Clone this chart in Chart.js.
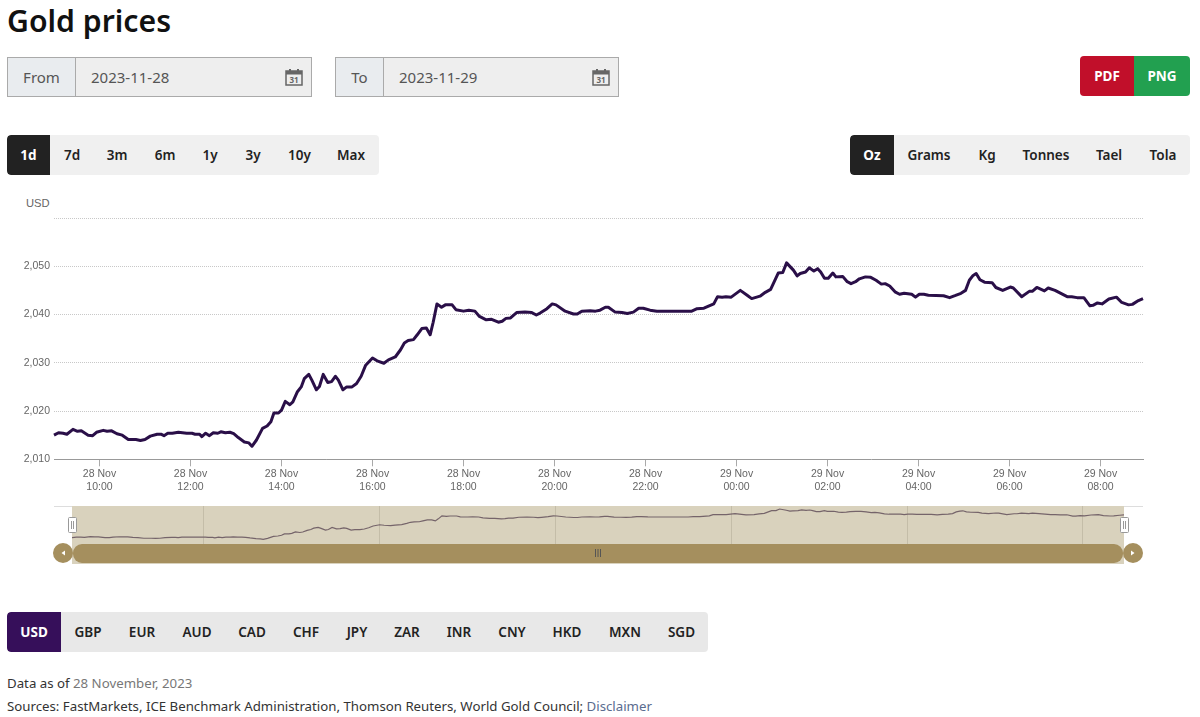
<!DOCTYPE html>
<html>
<head>
<meta charset="utf-8">
<title>Gold prices</title>
<script src="https://cdn.jsdelivr.net/npm/chart.js@4/dist/chart.umd.min.js"></script>
<style>
  html, body { margin: 0; padding: 0; background: #fff; }
  body { width: 1200px; height: 717px; position: relative; overflow: hidden; font-family: "Noto Sans", sans-serif; color: #222; }
  .abs { position: absolute; }
  h1 { position: absolute; left: 7px; top: 0; margin: 0; font-size: 30.2px; line-height: 42px; font-weight: 600; color: #111; }
  .field { position: absolute; top: 57px; height: 38px; border: 1px solid #aaa; background: #eee; display: flex; font-size: 15px; color: #555; line-height: 38px; }
  .field .lbl { background: #e9ecef; border-right: 1px solid #aaa; text-align: center; }
  .field .val { padding-left: 15px; flex: 1; }
  .field svg { position: absolute; right: 8px; top: 10px; }
  .group { position: absolute; height: 40px; background: #f0f0f0; border-radius: 4px; display: flex; font-size: 13.5px; font-weight: 600; line-height: 40px; overflow: hidden; }
  .group span { display: block; flex: none; text-align: center; }
  .group .on { background: #222; color: #fff; font-weight: 700; border-radius: 4px 0 0 4px; }
  #currency { background: #e8e8e8; }
  #currency .on { background: #360f5a; }
  #exportBtns { position: absolute; left: 1080px; top: 56px; width: 110px; height: 40px; display: flex; border-radius: 4px; overflow: hidden; color: #fff; font-size: 13.5px; font-weight: 700; line-height: 40px; text-align: center; }
  #exportBtns .pdf { width: 54px; background: #c10f2a; }
  #exportBtns .png { width: 56px; background: #22a050; }
  #mainWrap { position: absolute; left: 0; top: 190px; width: 1200px; height: 310px; }
  #navWrap { position: absolute; left: 72px; top: 506px; width: 1052px; height: 38px; background: #d9d2bd; }
  #usdLabel { position: absolute; left: 26px; top: 197px; font: 11.2px "Liberation Sans", sans-serif; color: #666; line-height: 13px; }
  .note { position: absolute; left: 7px; font-size: 13.25px; line-height: 20px; color: #333; white-space: nowrap; }
  .note .muted { color: #777; }
  .note .link { color: #5a6c8f; }
</style>
</head>
<body>
<h1>Gold prices</h1>

<div class="field" style="left:7px;width:303px">
  <div class="lbl" style="width:67px">From</div><div class="val">2023-11-28</div>
  <svg width="18" height="18" viewBox="0 0 18 18"><rect x="1" y="3" width="16" height="14" fill="none" stroke="#666" stroke-width="1.5"/><rect x="1" y="3" width="16" height="3.5" fill="#666"/><rect x="4" y="1" width="2" height="4" fill="#666"/><rect x="12" y="1" width="2" height="4" fill="#666"/><text x="9" y="15" font-size="8" font-weight="700" text-anchor="middle" fill="#666">31</text></svg>
</div>
<div class="field" style="left:335px;width:282px">
  <div class="lbl" style="width:47px">To</div><div class="val">2023-11-29</div>
  <svg width="18" height="18" viewBox="0 0 18 18"><rect x="1" y="3" width="16" height="14" fill="none" stroke="#666" stroke-width="1.5"/><rect x="1" y="3" width="16" height="3.5" fill="#666"/><rect x="4" y="1" width="2" height="4" fill="#666"/><rect x="12" y="1" width="2" height="4" fill="#666"/><text x="9" y="15" font-size="8" font-weight="700" text-anchor="middle" fill="#666">31</text></svg>
</div>
<div id="exportBtns"><div class="pdf">PDF</div><div class="png">PNG</div></div>

<div class="group" id="ranges" style="left:7px;top:135px;width:372px"></div>
<div class="group" id="units" style="left:850px;top:135px;width:340px"></div>

<div id="usdLabel">USD</div>
<div id="mainWrap"><canvas id="goldChart"></canvas></div>

<!-- navigator -->
<div class="abs" style="left:54px;top:506px;width:18px;height:1px;background:#ddd"></div>
<div class="abs" style="left:1124px;top:506px;width:19px;height:1px;background:#ddd"></div>
<div id="navWrap"><canvas id="navChart"></canvas></div>
<div class="abs" style="left:72px;top:544px;width:1052px;height:20px;background:#d9d2bd"></div>
<div class="abs" style="left:73px;top:544px;width:1050px;height:19px;background:#a58f5e;border-radius:9px"></div>
<div class="abs" style="left:53px;top:543px;width:20px;height:20px;background:#a58f5e;border-radius:50%"></div>
<div class="abs" style="left:1123px;top:543px;width:20px;height:20px;background:#a58f5e;border-radius:50%"></div>
<svg class="abs" style="left:53px;top:543px" width="1090" height="20">
  <path d="M12 7.5 L8.5 10 L12 12.5 Z" fill="#fff"/>
  <path d="M1078 7.5 L1081.5 10 L1078 12.5 Z" fill="#fff"/>
  <path d="M542.5 6 V14 M545 6 V14 M547.5 6 V14" stroke="#555" stroke-width="1"/>
</svg>
<svg class="abs" style="left:68px;top:517px" width="1062" height="17">
  <rect x="0.5" y="0.5" width="8" height="15" rx="1" fill="#fff" stroke="#999"/>
  <path d="M3.5 4 V12 M5.5 4 V12" stroke="#999"/>
  <rect x="1052.5" y="0.5" width="8" height="15" rx="1" fill="#fff" stroke="#999"/>
  <path d="M1055.5 4 V12 M1057.5 4 V12" stroke="#999"/>
</svg>

<div class="group" id="currency" style="left:7px;top:612px;width:701px"></div>

<div class="note" style="top:673px">Data as of <span class="muted">28 November, 2023</span></div>
<div class="note" style="top:696px">Sources: FastMarkets, ICE Benchmark Administration, Thomson Reuters, World Gold Council; <span class="link">Disclaimer</span></div>

<script>
// Minutos desde las 09:00 del 28 Nov
var minutes = [
  0, 6, 12, 17, 25, 31, 36, 45, 51, 56,
  65, 70, 76, 83, 90, 98, 103, 108, 114, 120,
  127, 136, 141, 145, 150, 156, 164, 175, 182, 186,
  192, 195, 200, 205, 210, 216, 220, 226, 232, 237,
  243, 251, 257, 261, 267, 275, 281, 286, 290, 296,
  300, 305, 311, 315, 321, 326, 330, 336, 340, 346,
  350, 355, 361, 366, 371, 375, 381, 386, 393, 399,
  405, 411, 420, 426, 435, 441, 450, 457, 462, 467,
  474, 479, 485, 491, 496, 500, 505, 511, 516, 525,
  530, 540, 547, 555, 561, 570, 577, 586, 591, 596,
  602, 610, 621, 630, 636, 641, 650, 657, 662, 674,
  685, 690, 696, 707, 714, 720, 727, 731, 740, 749,
  756, 764, 771, 777, 786, 795, 841, 848, 857, 870,
  875, 881, 886, 893, 905, 914, 920, 931, 938, 945,
  955, 961, 966, 975, 980, 984, 991, 996, 1002, 1007,
  1011, 1016, 1021, 1027, 1031, 1040, 1046, 1051, 1057, 1062,
  1070, 1077, 1084, 1091, 1096, 1102, 1109, 1115, 1121, 1131,
  1136, 1141, 1147, 1153, 1173, 1181, 1188, 1196, 1202, 1207,
  1212, 1216, 1221, 1227, 1237, 1242, 1251, 1261, 1265, 1276,
  1286, 1290, 1296, 1306, 1311, 1320, 1336, 1342, 1349, 1358,
  1366, 1370, 1376, 1382, 1391, 1401, 1408, 1417, 1422, 1430,
  1436
];

// Precio del oro en USD por onza
var prices = [
  2015.0, 2015.5, 2015.4, 2015.2, 2016.2, 2015.8, 2015.9, 2015.0, 2014.9, 2015.6,
  2016.0, 2015.8, 2015.9, 2015.3, 2015.0, 2014.1, 2014.1, 2014.1, 2013.9, 2014.1,
  2014.8, 2015.2, 2015.2, 2014.9, 2015.4, 2015.4, 2015.6, 2015.4, 2015.4, 2015.2,
  2015.2, 2014.7, 2015.4, 2014.9, 2015.5, 2015.4, 2015.7, 2015.5, 2015.6, 2015.3,
  2014.5, 2013.6, 2013.4, 2012.7, 2014.0, 2016.4, 2016.9, 2017.8, 2019.6, 2019.6,
  2020.2, 2022.0, 2021.3, 2021.9, 2024.0, 2025.0, 2026.7, 2027.6, 2026.4, 2024.4,
  2025.1, 2027.6, 2025.9, 2026.1, 2027.2, 2026.4, 2024.4, 2025.0, 2025.0, 2025.7,
  2027.2, 2029.5, 2031.0, 2030.4, 2029.9, 2030.6, 2031.2, 2032.7, 2034.1, 2034.6,
  2034.8, 2035.8, 2037.1, 2037.2, 2035.8, 2038.4, 2042.2, 2041.5, 2042.0, 2042.0,
  2041.0, 2040.7, 2040.9, 2040.7, 2039.6, 2038.9, 2039.0, 2038.4, 2038.6, 2039.2,
  2039.3, 2040.4, 2040.5, 2040.4, 2039.9, 2040.3, 2041.2, 2042.2, 2042.0, 2040.7,
  2040.1, 2040.1, 2040.7, 2040.8, 2040.7, 2040.9, 2041.5, 2041.5, 2040.5, 2040.4,
  2040.2, 2040.5, 2041.3, 2041.3, 2040.9, 2040.7, 2040.7, 2041.2, 2041.3, 2042.2,
  2043.7, 2043.6, 2043.7, 2043.6, 2045.0, 2044.0, 2043.3, 2043.8, 2044.6, 2045.2,
  2048.6, 2048.7, 2050.7, 2049.2, 2048.0, 2048.5, 2048.8, 2049.7, 2049.0, 2049.5,
  2048.8, 2047.5, 2047.5, 2048.6, 2047.8, 2047.9, 2046.8, 2046.4, 2046.8, 2047.4,
  2047.8, 2047.7, 2047.1, 2046.3, 2046.4, 2045.9, 2044.7, 2044.2, 2044.4, 2044.2,
  2043.6, 2044.2, 2044.2, 2044.0, 2043.9, 2043.5, 2043.9, 2044.4, 2045.0, 2047.1,
  2048.1, 2048.5, 2047.2, 2046.7, 2046.6, 2045.6, 2045.0, 2045.7, 2045.5, 2043.7,
  2044.8, 2044.8, 2045.6, 2044.9, 2045.5, 2045.0, 2043.7, 2043.7, 2043.5, 2043.5,
  2041.8, 2041.9, 2042.4, 2042.2, 2043.2, 2043.6, 2042.5, 2042.0, 2042.1, 2042.9,
  2043.3
];

// Etiquetas de los ejes
var tickMinutes = [60, 180, 300, 420, 540, 660, 780, 900, 1020, 1140, 1260, 1380];
var tickDates = ["28 Nov", "28 Nov", "28 Nov", "28 Nov", "28 Nov", "28 Nov", "28 Nov", "29 Nov", "29 Nov", "29 Nov", "29 Nov", "29 Nov"];
var tickTimes = ["10:00", "12:00", "14:00", "16:00", "18:00", "20:00", "22:00", "00:00", "02:00", "04:00", "06:00", "08:00"];
var navGridMinutes = [180, 420, 660, 900, 1140, 1380];
var priceTicks = [2010, 2020, 2030, 2040, 2050, 2060];

// Botones
var rangeButtons = [["1d", 43], ["7d", 44], ["3m", 46], ["6m", 50], ["1y", 40], ["3y", 46], ["10y", 47], ["Max", 56]];
var unitButtons = [["Oz", 44], ["Grams", 70], ["Kg", 46], ["Tonnes", 72], ["Tael", 54], ["Tola", 54]];
var currencyButtons = [["USD", 54], ["GBP", 54], ["EUR", 54], ["AUD", 56], ["CAD", 54], ["CHF", 54], ["JPY", 48], ["ZAR", 52], ["INR", 52], ["CNY", 54], ["HKD", 56], ["MXN", 60], ["SGD", 53]];

function fillGroup(id, buttons) {
  var box = document.getElementById(id);
  buttons.forEach(function (b, i) {
    var s = document.createElement("span");
    s.textContent = b[0];
    s.style.width = b[1] + "px";
    if (i === 0) s.className = "on";
    box.appendChild(s);
  });
}
fillGroup("ranges", rangeButtons);
fillGroup("units", unitButtons);
fillGroup("currency", currencyButtons);

var linePoints = minutes.map(function (m, i) { return { x: m, y: prices[i] }; });
var axisFont = { family: '"Liberation Sans", sans-serif', size: 10.5 };

function setTicks(list) {
  return function (scale) {
    scale.ticks = list.map(function (v) { return { value: v }; });
  };
}

// Gráfico principal
new Chart(document.getElementById("goldChart"), {
  type: "line",
  data: {
    datasets: [{
      data: linePoints,
      borderColor: "#2a0f48",
      borderWidth: 3,
      pointRadius: 0,
      tension: 0,
      borderJoinStyle: "round",
      clip: false
    }]
  },
  options: {
    responsive: true,
    maintainAspectRatio: false,
    animation: false,
    parsing: false,
    normalized: true,
    layout: { padding: { top: 28, right: 57, bottom: 0, left: 0 } },
    plugins: { legend: { display: false }, tooltip: { enabled: false } },
    scales: {
      x: {
        type: "linear",
        min: 0,
        max: 1436,
        afterFit: function (s) { s.height = 40.7; },
        afterBuildTicks: setTicks(tickMinutes),
        grid: { drawOnChartArea: false, drawTicks: true, tickLength: 7, tickColor: "#aaa" },
        border: { color: "#999" },
        ticks: {
          autoSkip: false,
          maxRotation: 0,
          padding: 2,
          color: "#666",
          font: axisFont,
          callback: function (value) {
            var i = tickMinutes.indexOf(value);
            return [tickDates[i], tickTimes[i]];
          }
        }
      },
      y: {
        min: 2010,
        max: 2060,
        afterFit: function (s) { s.width = 54; },
        afterBuildTicks: setTicks(priceTicks),
        grid: { color: "#c8c8c8", lineWidth: 1, drawTicks: false },
        border: { display: false, dash: [1, 1] },
        ticks: {
          padding: 4,
          color: "#666",
          font: axisFont,
          callback: function (value) {
            return value === 2060 ? "" : value.toLocaleString("en-US");
          }
        }
      }
    }
  }
});

// Navegador inferior
new Chart(document.getElementById("navChart"), {
  type: "line",
  data: {
    datasets: [{
      data: linePoints,
      borderColor: "#75646a",
      borderWidth: 1.2,
      pointRadius: 0,
      tension: 0
    }]
  },
  options: {
    responsive: true,
    maintainAspectRatio: false,
    animation: false,
    parsing: false,
    normalized: true,
    layout: { padding: 0 },
    plugins: { legend: { display: false }, tooltip: { enabled: false } },
    scales: {
      x: {
        type: "linear",
        min: 0,
        max: 1436,
        afterFit: function (s) { s.height = 0; },
        afterBuildTicks: setTicks(navGridMinutes),
        grid: { color: "#c4bda8", drawTicks: false },
        border: { display: false },
        ticks: { display: false }
      },
      y: { display: false, min: 2006.9, max: 2054.5 }
    }
  }
});
</script>
</body>
</html>
